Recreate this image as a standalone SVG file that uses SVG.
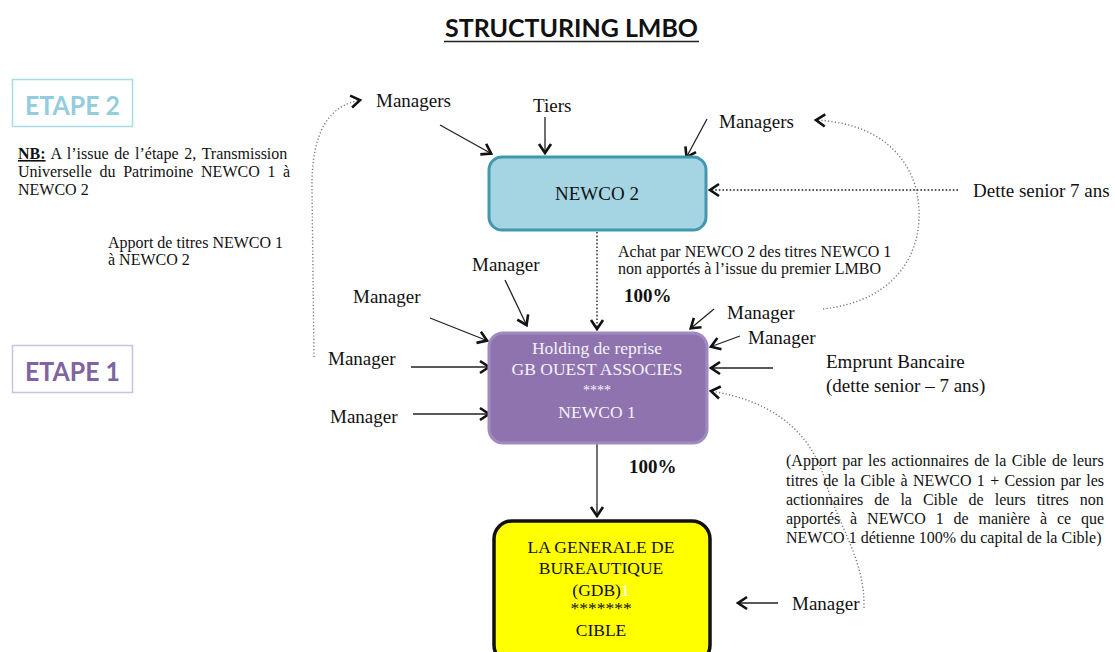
<svg xmlns="http://www.w3.org/2000/svg" width="1115" height="652" viewBox="0 0 1115 652">
<defs>
<style>
.t{font-family:"Liberation Serif","Times New Roman",serif;fill:#111}
.lbl{font-size:19px}
.sm{font-size:16px}
.pct{font-size:19px;font-weight:bold}
.hd{font-family:Lato,"Open Sans","Liberation Sans",sans-serif;font-weight:bold}
.ln{stroke:#222;stroke-width:1.3;fill:none}
.dot{stroke:#777;stroke-width:1.4;stroke-dasharray:1.2 2.2;fill:none}
.dotd{stroke:#222;stroke-width:1.4;stroke-dasharray:1.6 2;fill:none}
.wt{fill:#f5f2f9;text-anchor:middle}
.yt{text-anchor:middle;font-size:17.5px}
</style>
<marker id="ah" viewBox="-12 -8 14 16" markerWidth="14" markerHeight="16" refX="1" refY="0" orient="auto" markerUnits="userSpaceOnUse">
<path d="M-9,-6 L0,0 L-9,6" fill="none" stroke="#111" stroke-width="2.6"/>
</marker>
</defs>
<rect width="1115" height="652" fill="#ffffff"/>

<g id="title">
<text class="hd" x="445" y="37" font-size="25" textLength="253" lengthAdjust="spacingAndGlyphs" fill="#111">STRUCTURING LMBO</text>
<line x1="444" y1="41.5" x2="699" y2="41.5" stroke="#222" stroke-width="1.6"/>
</g>

<g id="etape2">
<rect x="12.5" y="79.5" width="120" height="47" fill="none" stroke="#a9dbe6" stroke-width="1.5"/>
<text class="hd" x="25" y="115" font-size="26" textLength="95" lengthAdjust="spacingAndGlyphs" fill="#93cddd">ETAPE 2</text>
</g>
<g id="etape1">
<rect x="12.5" y="345.5" width="120" height="47" fill="none" stroke="#cdbfe0" stroke-width="1.5"/>
<text class="hd" x="25" y="381" font-size="26" textLength="95" lengthAdjust="spacingAndGlyphs" fill="#8064a2">ETAPE 1</text>
</g>

<g id="nb-note">
<text class="t sm" x="18" y="159" word-spacing="1.7"><tspan font-weight="bold" text-decoration="underline">NB:</tspan> A l’issue de l’étape 2, Transmission</text>
<text class="t sm" x="18" y="177" word-spacing="3.7">Universelle du Patrimoine NEWCO 1 à</text>
<text class="t sm" x="18" y="195">NEWCO 2</text>
</g>

<g id="apport-note">
<text class="t sm" x="108" y="248">Apport de titres NEWCO 1</text>
<text class="t sm" x="108" y="265">à NEWCO 2</text>
</g>

<g id="connectors">
<path class="ln" d="M440,125 L492,154" marker-end="url(#ah)"/>
<path class="ln" d="M545,117 L545,154" marker-end="url(#ah)"/>
<path class="ln" d="M707,119 L686,158" marker-end="url(#ah)"/>
<path class="dotd" d="M958,190 L709,190" marker-end="url(#ah)"/>
<path class="dotd" d="M597,232 L597,330" marker-end="url(#ah)"/>
<path class="ln" d="M505,280 L527,326" marker-end="url(#ah)"/>
<path class="ln" d="M430,318 L488,341" marker-end="url(#ah)"/>
<path class="ln" d="M411,367 L490,367" marker-end="url(#ah)"/>
<path class="ln" d="M413,414 L490,414" marker-end="url(#ah)"/>
<path class="ln" d="M714,309 L690,329" marker-end="url(#ah)"/>
<path class="ln" d="M740,336 L710,347" marker-end="url(#ah)"/>
<path class="ln" d="M773,368 L710,368" marker-end="url(#ah)"/>
<path class="dot" d="M864,608 C865,560 840,530 825,480 C810,430 770,400 710,391" marker-end="url(#ah)"/>
<path class="ln" d="M597,443 L597,517" marker-end="url(#ah)"/>
<path class="ln" d="M778,603 L737,603" marker-end="url(#ah)"/>
<path class="dot" d="M314,357 L312,190 C311,130 330,105 361,100" marker-end="url(#ah)"/>
<path class="dot" d="M823,309 C905,300 930,240 915,185 C900,140 860,122 815,120" marker-end="url(#ah)"/>
</g>

<g id="newco2">
<rect x="489" y="157" width="217" height="73" rx="13" fill="#a5d5e3" stroke="#4197ae" stroke-width="3"/>
<text class="t lbl" x="597" y="200" text-anchor="middle">NEWCO 2</text>
</g>

<g id="newco1">
<rect x="489" y="333" width="218" height="110" rx="14" fill="#8e73af" stroke="#a08bc0" stroke-width="3"/>
<text class="t wt" x="597" y="354" font-size="17.5">Holding de reprise</text>
<text class="t wt" x="597" y="375" font-size="17.5">GB OUEST ASSOCIES</text>
<text class="t wt" x="597" y="395" font-size="14">****</text>
<text class="t wt" x="597" y="418" font-size="17.5">NEWCO 1</text>
</g>

<g id="cible">
<rect x="494" y="521" width="216" height="142" rx="18" fill="#ffff00" stroke="#111" stroke-width="3.5"/>
<text class="t yt" x="601" y="553">LA GENERALE DE</text>
<text class="t yt" x="601" y="574">BUREAUTIQUE</text>
<text class="t yt" x="601" y="596">(GDB)<tspan fill="#ffffff">1</tspan></text>
<text class="t yt" x="601" y="614" font-size="14">*******</text>
<text class="t yt" x="601" y="636">CIBLE</text>
</g>

<g id="labels">
<text class="t lbl" x="376" y="107">Managers</text>
<text class="t lbl" x="533" y="112">Tiers</text>
<text class="t lbl" x="719" y="128">Managers</text>
<text class="t lbl" x="973" y="197">Dette senior 7 ans</text>
<text class="t sm" x="618" y="257">Achat par NEWCO 2 des titres NEWCO 1</text>
<text class="t sm" x="618" y="274">non apportés à l’issue du premier LMBO</text>
<text class="t pct" x="624" y="302">100%</text>
<text class="t lbl" x="472" y="271">Manager</text>
<text class="t lbl" x="353" y="303">Manager</text>
<text class="t lbl" x="328" y="365">Manager</text>
<text class="t lbl" x="330" y="423">Manager</text>
<text class="t lbl" x="727" y="319">Manager</text>
<text class="t lbl" x="748" y="344">Manager</text>
<text class="t lbl" x="826" y="368">Emprunt Bancaire</text>
<text class="t lbl" x="826" y="392">(dette senior – 7 ans)</text>
<text class="t pct" x="629" y="473">100%</text>
<text class="t lbl" x="792" y="610">Manager</text>
</g>

<g id="cible-note">
<text class="t sm" x="786" y="466" word-spacing="1.5">(Apport par les actionnaires de la Cible de leurs</text>
<text class="t sm" x="786" y="486" word-spacing="1.3">titres de la Cible à NEWCO 1 + Cession par les</text>
<text class="t sm" x="786" y="505" word-spacing="7">actionnaires de la Cible de leurs titres non</text>
<text class="t sm" x="786" y="524" word-spacing="5.9">apportés à NEWCO 1 de manière à ce que</text>
<text class="t sm" x="786" y="543">NEWCO 1 détienne 100% du capital de la Cible)</text>
</g>
</svg>
